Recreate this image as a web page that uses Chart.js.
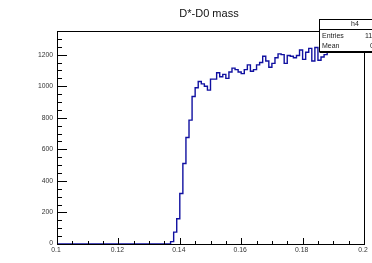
<!DOCTYPE html>
<html>
<head>
<meta charset="utf-8">
<script src="https://cdn.jsdelivr.net/npm/chart.js@4.4.1/dist/chart.umd.min.js"></script>
<style>
  body { margin: 0; background: #fff; }
  canvas { display: block; }
</style>
</head>
<body>
<canvas id="histo" width="372" height="263"></canvas>
<script>
// histogram h4 : 100 bins from 0.1 to 0.2
const xMin = 0.1;
const xMax = 0.2;
const binWidth = 0.001;
const counts = [
  0, 0, 0, 0, 0, 0, 0, 0, 0, 0,
  0, 0, 0, 0, 0, 0, 0, 0, 0, 0,
  0, 0, 0, 0, 0, 0, 0, 0, 0, 0,
  0, 0, 0, 0, 0, 0, 0, 15, 75, 160,
  320, 510, 675, 785, 935, 990, 1030, 1015, 1000, 975,
  1045, 1045, 1085, 1060, 1075, 1050, 1090, 1115, 1105, 1090,
  1080, 1105, 1135, 1095, 1105, 1135, 1150, 1190, 1160, 1120,
  1145, 1180, 1205, 1200, 1145, 1195, 1190, 1180, 1195, 1230,
  1170, 1215, 1240, 1160, 1245, 1165, 1185, 1200, 1235, 1250,
  1215, 1245, 1260, 1240, 1255, 1250, 1245, 1260, 1240, 1215
];
const xTickValues = [0.1, 0.12, 0.14, 0.16, 0.18, 0.2];
const xTickLabels = ['0.1', '0.12', '0.14', '0.16', '0.18', '0.2'];
const yTickValues = [0, 200, 400, 600, 800, 1000, 1200];
const yMax = 1350;
const title = 'D*-D0 mass';
const statName = 'h4';
const statEntries = '115371';
const statMean = '0.1716';

// step points at the low edge of every bin, plus the last high edge
let points = counts.map((c, i) => ({ x: xMin + i * binWidth, y: c }));
points.push({ x: xMax, y: counts[counts.length - 1] });

const font = px => px + 'px "Liberation Sans", Arial, sans-serif';

const rootFrame = {
  id: 'rootFrame',
  afterDraw(chart) {
    const ctx = chart.ctx;
    const xs = chart.scales.x, ys = chart.scales.y;
    const a = chart.chartArea;
    ctx.save();
    ctx.strokeStyle = '#000';
    ctx.lineWidth = 1;

    // frame
    ctx.strokeRect(Math.round(a.left) + 0.5, Math.round(a.top) + 0.5,
      Math.round(a.right - a.left), Math.round(a.bottom - a.top));

    // y ticks (inward)
    ctx.beginPath();
    for (let v = 0; v <= yMax; v += 50) {
      const y = Math.round(ys.getPixelForValue(v)) + 0.5;
      const len = v % 200 === 0 ? 10 : 5;
      ctx.moveTo(a.left, y);
      ctx.lineTo(a.left + len, y);
    }
    // x ticks (inward)
    for (let k = 0; k <= 20; k++) {
      const v = xMin + k * 0.005;
      const x = Math.round(xs.getPixelForValue(v)) + 0.5;
      const len = k % 4 === 0 ? 6 : 3;
      ctx.moveTo(x, a.bottom);
      ctx.lineTo(x, a.bottom - len);
    }
    ctx.stroke();

    // labels
    ctx.fillStyle = '#333';
    ctx.font = font(6.8);
    ctx.textAlign = 'right';
    ctx.textBaseline = 'middle';
    yTickValues.forEach(v => {
      ctx.fillText(String(v), a.left - 4, ys.getPixelForValue(v) - (v === 0 ? 1 : 0));
    });
    ctx.textAlign = 'center';
    xTickValues.forEach((v, i) => {
      ctx.fillText(xTickLabels[i], xs.getPixelForValue(v) - 1, a.bottom + 6);
    });

    // title
    ctx.fillStyle = '#111';
    ctx.font = font(11);
    ctx.fillText(title, 209, 14);

    // stat box
    const bx = 319.5, by = 19.5, bw = 70, bh = 32;
    ctx.fillStyle = '#fff';
    ctx.fillRect(bx, by, bw, bh);
    ctx.strokeRect(bx, by, bw, bh);
    ctx.beginPath();
    ctx.moveTo(bx, 29.5);
    ctx.lineTo(bx + bw, 29.5);
    ctx.moveTo(bx, by + bh + 1);
    ctx.lineTo(bx + bw, by + bh + 1);
    ctx.stroke();
    ctx.fillStyle = '#222';
    ctx.font = font(7);
    ctx.textAlign = 'center';
    ctx.fillText(statName, 355, 24.5);
    ctx.textAlign = 'left';
    ctx.fillText('Entries', 322, 36.5);
    ctx.fillText('Mean', 322, 46.5);
    ctx.fillText(statEntries, 365, 36.5);
    ctx.fillText(statMean, 370, 46.5);
    ctx.restore();
  }
};

new Chart(document.getElementById('histo'), {
  type: 'line',
  data: {
    datasets: [{
      data: points,
      stepped: true,
      borderColor: '#1010a0',
      borderWidth: 1.4,
      pointRadius: 0,
      fill: false
    }]
  },
  options: {
    responsive: false,
    animation: false,
    layout: { padding: { left: 57, top: 31, right: 8, bottom: 19 } },
    plugins: { legend: { display: false }, tooltip: { enabled: false } },
    scales: {
      x: {
        type: 'linear', min: xMin, max: xMax,
        ticks: { display: false }, grid: { display: false }, border: { display: false },
        afterFit(s) { s.height = 0; }
      },
      y: {
        min: 0, max: yMax,
        ticks: { display: false }, grid: { display: false }, border: { display: false },
        afterFit(s) { s.width = 0; }
      }
    }
  },
  plugins: [rootFrame]
});
</script>
</body>
</html>
